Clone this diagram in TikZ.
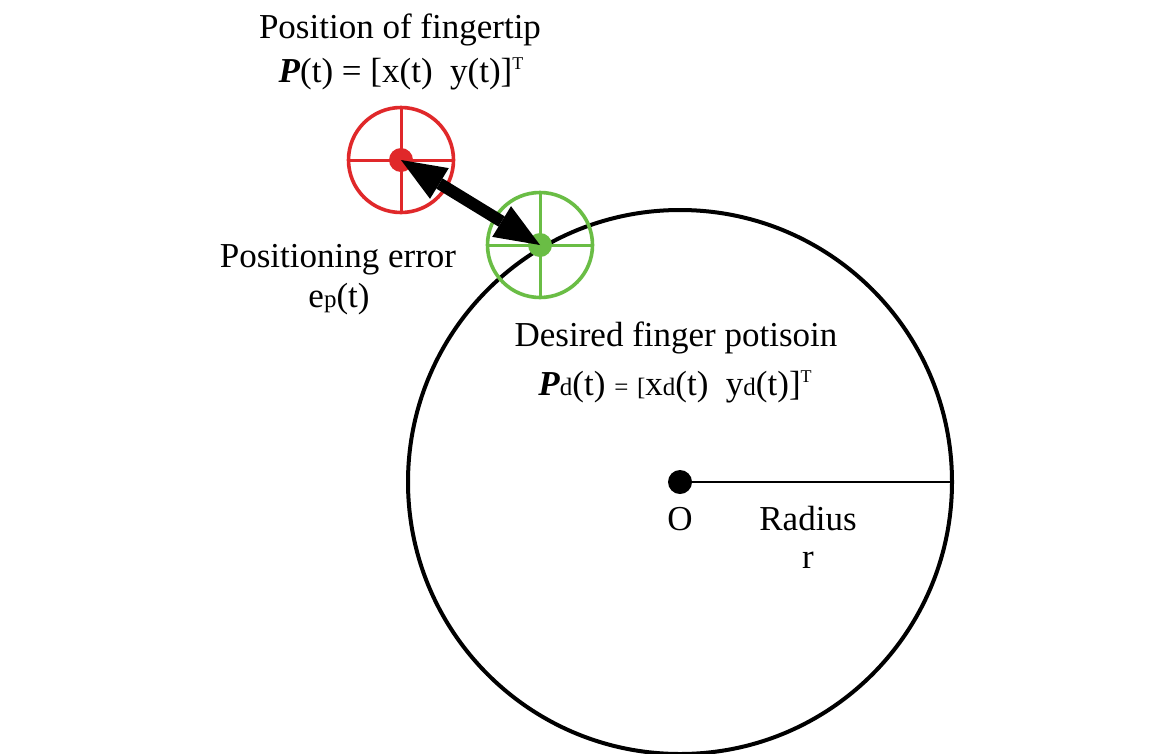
\documentclass[tikz,border=0pt]{standalone}
\usepackage{fontspec}
\setmainfont{Liberation Serif}
\usetikzlibrary{arrows.meta}
\definecolor{redc}{RGB}{224,40,42}
\definecolor{greenc}{RGB}{106,189,69}
\newcommand{\smtxt}[1]{{\fontsize{25}{25}\selectfont #1}}
\newcommand{\supT}{\raisebox{13pt}{\fontsize{18}{18}\selectfont T}}
\begin{document}
\begin{tikzpicture}[x=1pt,y=-1pt,
  txt/.style={font=\fontsize{35}{40}\selectfont, inner sep=0pt, anchor=base},
  ring/.style={draw=#1, circle, minimum size=105pt, line width=3.6pt, inner sep=0pt, outer sep=0pt},
  hub/.style={circle, fill=#1, minimum size=24pt, inner sep=0pt, outer sep=0pt},
  cross/.style={draw=#1, line width=3pt}]
\useasboundingbox (0,0) rectangle (1151,753);
\clip (0,0) rectangle (1151,753);
\fill[white] (0,0) rectangle (1151,753);

% big circle
\node[draw, circle, minimum size=544pt, line width=4pt, inner sep=0pt, outer sep=0pt] (big) at (680,482) {};
\node[hub=black] (odot) at (big.center) {};
\draw[line width=1.6pt] (odot.center) -- (big.east);

% red target
\node[ring=redc] (rring) at (401,160) {};
\draw[cross=redc] (rring.north) -- (rring.south);
\draw[cross=redc] (rring.west) -- (rring.east);
\node[hub=redc] (rdot) at (rring.center) {};

% green target
\node[ring=greenc] (gring) at (540,245) {};
\draw[cross=greenc] (gring.north) -- (gring.south);
\draw[cross=greenc] (gring.west) -- (gring.east);
\node[hub=greenc] (gdot) at (gring.center) {};

% error arrow
\draw[line width=12pt, {Triangle[length=45pt,width=36pt,line width=0pt]}-{Triangle[length=45pt,width=36pt,line width=0pt]}] (rdot.center) -- (gdot.center);

% texts
\node[txt] (t1) at (400,38) {Position of fingertip};
\node[txt] (t2) at (401,82) {\textbf{\textit{P}}(t) = [x(t)\ \ y(t)]\supT};
\node[txt] (t3) at (338,267) {Positioning error};
\node[txt] (t4) at (339,307) {e\smtxt{p}(t)};
\node[txt] (t5) at (676,346) {Desired finger potisoin};
\node[txt] (t6) at (675,395) {\textbf{\textit{P}}\smtxt{d}(t) \smtxt{=} \smtxt{[}x\smtxt{d}(t)\ \ y\smtxt{d}(t)]\supT};
\node[txt] (tO) at (680,530) {O};
\node[txt] (tR) at (808,530) {Radius};
\node[txt] (tr) at (808,568) {r};
\end{tikzpicture}
\end{document}
